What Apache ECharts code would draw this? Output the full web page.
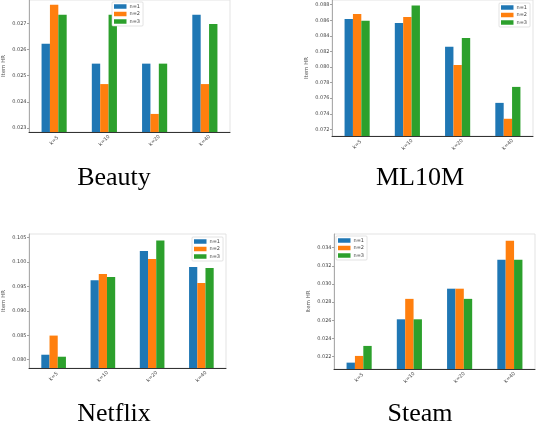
<!DOCTYPE html>
<html>
<head>
<meta charset="utf-8">
<script src="https://cdn.jsdelivr.net/npm/echarts@6/dist/echarts.min.js"></script>
<style>
html,body{margin:0;padding:0;background:#fff;}
#c{width:536px;height:424px;}
</style>
</head>
<body>
<div id="c"></div>
<script>
const categories = ['k=5', 'k=10', 'k=20', 'k=40'];
const seriesNames = ['n=1', 'n=2', 'n=3'];
const colors = ['#1f77b4', '#ff7f0e', '#2ca02c'];

const beautyBlue = [0.02622, 0.02546, 0.02546, 0.02733];
const beautyOrange = [0.02771, 0.02468, 0.02354, 0.02468];
const beautyGreen = [0.02733, 0.02733, 0.02546, 0.02697];
const beautyTicks = [0.023, 0.024, 0.025, 0.026, 0.027];

const ml10mBlue = [0.08617, 0.08565, 0.08260, 0.07540];
const ml10mOrange = [0.08681, 0.08642, 0.08026, 0.07336];
const ml10mGreen = [0.08595, 0.08790, 0.08374, 0.07745];
const ml10mTicks = [0.072, 0.074, 0.076, 0.078, 0.080, 0.082, 0.084, 0.086, 0.088];

const netflixBlue = [0.08102, 0.09629, 0.10225, 0.09898];
const netflixOrange = [0.08494, 0.09755, 0.10061, 0.09571];
const netflixGreen = [0.08061, 0.09694, 0.10441, 0.09877];
const netflixTicks = [0.080, 0.085, 0.090, 0.095, 0.100, 0.105];

const steamBlue = [0.02134, 0.02611, 0.02948, 0.03266];
const steamOrange = [0.02208, 0.02836, 0.02948, 0.03477];
const steamGreen = [0.02318, 0.02611, 0.02836, 0.03266];
const steamTicks = [0.022, 0.024, 0.026, 0.028, 0.030, 0.032, 0.034];

const panels = [
  {title: 'Beauty', yName: 'Item HR', data: [beautyBlue, beautyOrange, beautyGreen], ticks: beautyTicks,
   range: [0.02285, 0.02789], grid: {left: 27, top: 0, width: 203, height: 132},
   legend: {left: 112, top: 2}, titlePos: [114, 178]},
  {title: 'ML10M', yName: 'Item HR', data: [ml10mBlue, ml10mOrange, ml10mGreen], ticks: ml10mTicks,
   range: [0.07115, 0.0886], grid: {left: 332, top: 0, width: 201, height: 136},
   legend: {left: 499, top: 3}, titlePos: [420, 178]},
  {title: 'Netflix', yName: 'Item HR', data: [netflixBlue, netflixOrange, netflixGreen], ticks: netflixTicks,
   range: [0.0783, 0.10575], grid: {left: 28, top: 234, width: 198, height: 134},
   legend: {left: 192, top: 237}, titlePos: [114, 414]},
  {title: 'Steam', yName: 'Item HR', data: [steamBlue, steamOrange, steamGreen], ticks: steamTicks,
   range: [0.02064, 0.0355], grid: {left: 334, top: 234, width: 201, height: 135},
   legend: {left: 336, top: 236}, titlePos: [420, 414]}
];

const grids = [], xAxes = [], yAxes = [], series = [], legends = [], graphics = [];
panels.forEach((p, i) => {
  grids.push(Object.assign({show: true, borderColor: '#dcdcdc', borderWidth: 0.8, backgroundColor: 'transparent'}, p.grid));
  xAxes.push({
    type: 'category', gridIndex: i, data: categories,
    axisLine: {lineStyle: {color: '#333', width: 1}},
    axisTick: {alignWithLabel: true, length: 2, lineStyle: {color: '#333', width: 0.6}},
    axisLabel: {rotate: 45, fontSize: 5, color: '#444', margin: 8.5, align: 'center', verticalAlign: 'middle', interval: 0,
      fontFamily: 'DejaVu Sans'},
    splitLine: {show: false}
  });
  yAxes.push({
    type: 'value', gridIndex: i, min: p.range[0], max: p.range[1],
    name: p.yName, nameLocation: 'middle', nameGap: 22,
    nameTextStyle: {fontSize: 5.5, color: '#555', fontFamily: 'DejaVu Sans'},
    axisLine: {show: true, lineStyle: {color: '#999', width: 0.8}},
    axisTick: {show: true, length: 2, customValues: p.ticks, lineStyle: {color: '#666', width: 0.6}},
    axisLabel: {fontSize: 5, color: '#444', margin: 2.5, customValues: p.ticks, fontFamily: 'DejaVu Sans',
      formatter: v => v.toFixed(3)},
    splitLine: {show: false}
  });
  p.data.forEach((vals, k) => {
    series.push({
      type: 'bar', name: seriesNames[k], xAxisIndex: i, yAxisIndex: i, data: vals,
      barCategoryGap: '50%', barGap: '0%',
      itemStyle: {color: colors[k]}, silent: true
    });
  });
  legends.push({
    data: seriesNames, orient: 'vertical', left: p.legend.left, top: p.legend.top,
    icon: 'rect', itemWidth: 12.5, itemHeight: 4.5, itemGap: 2.5,
    backgroundColor: '#fff', borderColor: '#d0d0d0', borderWidth: 0.6, borderRadius: 1,
    padding: [2, 3, 2, 2],
    textStyle: {fontSize: 5, color: '#444', padding: [0, 0, 0, -2], fontFamily: 'DejaVu Sans'},
    selectedMode: false
  });
  graphics.push({
    type: 'text', x: p.titlePos[0], y: p.titlePos[1],
    style: {text: p.title, fontSize: 26, fontFamily: 'Liberation Serif', fill: '#000',
      textAlign: 'center', textVerticalAlign: 'middle'}
  });
});

const chart = echarts.init(document.getElementById('c'), null, {renderer: 'canvas'});
chart.setOption({
  animation: false,
  grid: grids, xAxis: xAxes, yAxis: yAxes, series: series, legend: legends, graphic: graphics
});
</script>
</body>
</html>
